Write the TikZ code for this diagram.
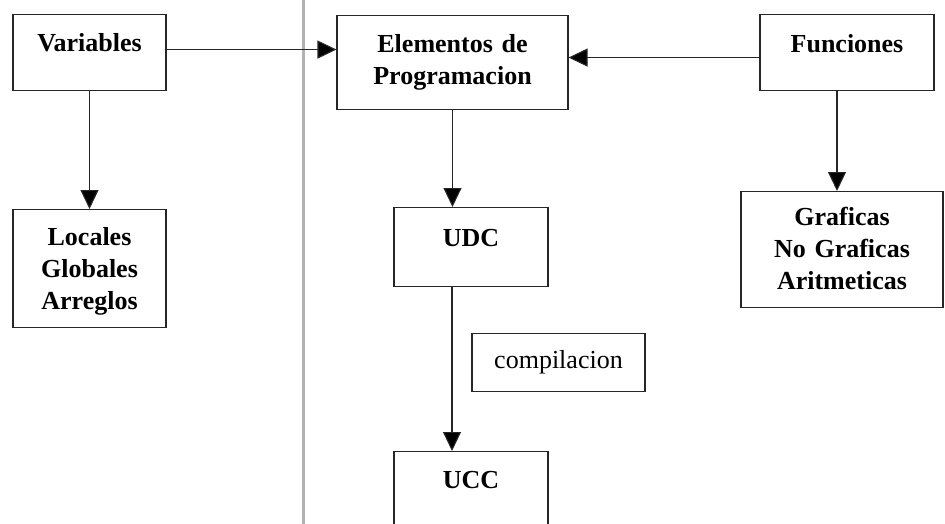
\documentclass[tikz,border=0pt]{standalone}
\usepackage{fontspec}
\setmainfont{Liberation Serif}
\usetikzlibrary{arrows.meta}
\tikzset{
  box/.style={draw=black!85, line width=1.1pt, inner sep=0pt, anchor=north,
    align=center, font=\fontsize{26}{32}\selectfont\bfseries},
  plainbox/.style={box, font=\fontsize{26}{32}\selectfont},
  conn/.style={draw=black!85, line width=1.1pt, -{Triangle[length=19pt,width=18pt,fill=black]}},
  divider/.style={draw=black!30, line width=2.4pt}
}
\begin{document}
\begin{tikzpicture}[x=1pt,y=-1pt]
\useasboundingbox (0,0) rectangle (945,524);
\clip (0,0) rectangle (945,524);
\coordinate (dtop) at (303.5,0);
\coordinate (dbot) at (303.5,524);
\draw[divider] (dtop) -- (dbot);
\node[box, text width=153pt, text height=37pt, text depth=39pt] (var) at (89.5,14) {Variables};
\node[box, text width=231pt, text height=36.5pt, text depth=57.5pt] (elem) at (452.5,15) {Elementos de\\Programacion};
\node[box, text width=174pt, text height=37.5pt, text depth=38.5pt] (fun) at (847,14) {Funciones};
\node[box, text width=153pt, text height=36pt, text depth=82pt] (loc) at (89.5,209) {Locales\\Globales\\Arreglos};
\node[box, text width=202pt, text height=34pt, text depth=82pt] (graf) at (842,191) {Graficas\\No Graficas\\Aritmeticas};
\node[box, text width=154pt, text height=38.5pt, text depth=40.5pt] (udc) at (471,207) {UDC};
\node[plainbox, text width=173pt, text height=35pt, text depth=23pt] (comp) at (558.5,333) {compilacion};
\node[box, text width=154pt, text height=36.5pt, text depth=72.5pt] (ucc) at (471,451) {UCC};
\draw[conn] ([yshift=3pt]var.east) -- ([yshift=3pt]var.east -| elem.west);
\draw[conn] ([yshift=-5pt]fun.west) -- ([yshift=-5pt]fun.west -| elem.east);
\draw[conn] (var.south) -- (var.south |- loc.north);
\draw[conn] (elem.south) -- (elem.south |- udc.north);
\draw[conn] ([xshift=-10pt]fun.south) -- ([xshift=-10pt]fun.south |- graf.north);
\draw[conn] ([xshift=-19pt]udc.south) -- ([xshift=-19pt]udc.south |- ucc.north);
\end{tikzpicture}
\end{document}
